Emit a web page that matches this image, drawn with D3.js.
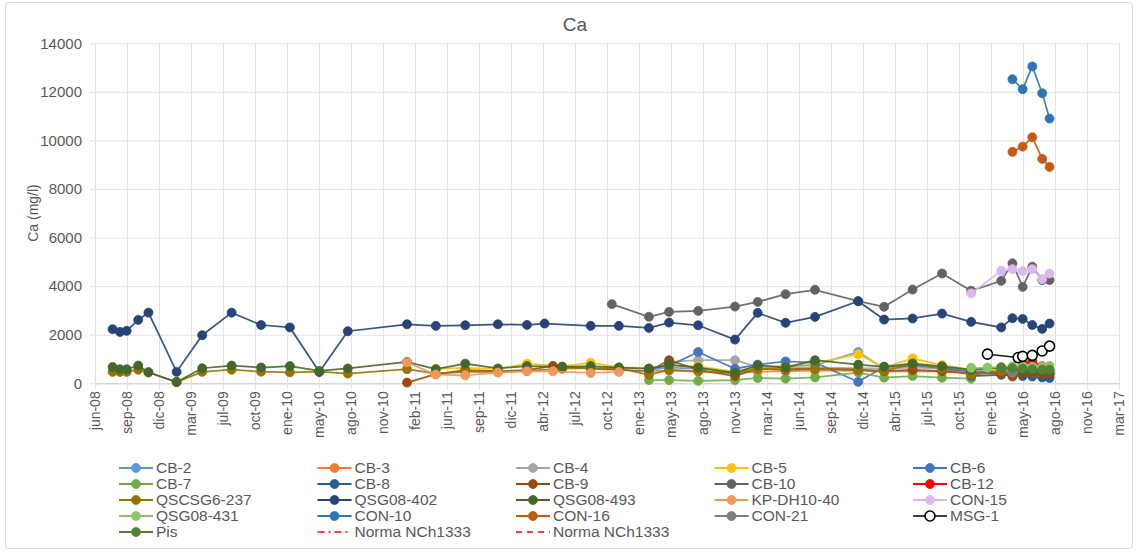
<!DOCTYPE html>
<html><head><meta charset="utf-8">
<script src="https://cdn.jsdelivr.net/npm/d3@7"></script>
<style>
body{margin:0;background:#fff;}
text{font-family:"Liberation Sans",Arial,sans-serif;fill:#595959;}
</style>
</head><body>
<svg id="c" width="1138" height="552"></svg>
<script>
// ---------- DATA ----------
const title = "Ca";
const yLabel = "Ca (mg/l)";
const monthsEs = ["ene","feb","mar","abr","may","jun","jul","ago","sep","oct","nov","dic"];
const xStart = "2008-06-01", xEnd = "2017-03-06", tickStepDays = 100;
const yTicks = [0,2000,4000,6000,8000,10000,12000,14000];

const CB2 = [["2013-02-26",550],["2013-04-30",650],["2013-07-30",600],["2013-11-22",480],["2014-02-01",650],["2014-04-29",700],["2014-07-30",750],["2014-12-12",1290],["2015-03-03",600],["2015-05-31",700],["2015-08-31",600],["2015-11-30",450],["2016-03-03",480],["2016-04-07",450],["2016-05-09",500],["2016-06-08",450],["2016-07-09",420],["2016-08-01",400]];
const CB3 = [["2013-02-26",500],["2013-04-30",520],["2013-07-30",480],["2013-11-22",420],["2014-02-01",480],["2014-04-29",500],["2014-07-30",520],["2014-12-12",520],["2015-03-03",480],["2015-05-31",500],["2015-08-31",480],["2015-11-30",420],["2016-03-03",430],["2016-04-07",400],["2016-05-09",420],["2016-06-08",410],["2016-07-09",400],["2016-08-01",400]];
const CB4 = [["2013-04-30",880],["2013-07-30",950],["2013-11-22",950],["2014-02-01",680],["2014-04-29",650],["2014-07-30",650],["2014-12-12",620],["2015-03-03",600],["2015-05-31",650],["2015-08-31",600],["2015-11-30",520],["2016-03-03",550],["2016-04-07",520],["2016-05-09",530],["2016-06-08",520],["2016-07-09",500],["2016-08-01",500]];
const CB5 = [["2011-05-02",600],["2011-08-02",630],["2011-11-12",590],["2012-02-11",810],["2012-05-31",700],["2012-08-28",850],["2012-11-24",660],["2013-02-26",620],["2013-04-30",720],["2013-07-30",700],["2013-11-22",470],["2014-02-01",700],["2014-04-29",720],["2014-07-30",820],["2014-12-12",1200],["2015-03-03",650],["2015-05-31",1020],["2015-08-31",750],["2015-11-30",560],["2016-03-03",600],["2016-04-07",640],["2016-05-09",640],["2016-06-08",620],["2016-07-09",620],["2016-08-01",600]];
const CB6 = [["2013-02-26",600],["2013-04-30",720],["2013-07-30",1290],["2013-11-22",600],["2014-02-01",770],["2014-04-29",900],["2014-07-30",850],["2014-12-12",60],["2015-03-03",680],["2015-05-31",750],["2015-08-31",650],["2015-11-30",480],["2016-03-03",450],["2016-04-07",400],["2016-05-09",420],["2016-06-08",380],["2016-07-09",350],["2016-08-01",350]];
const CB7 = [["2013-02-26",130],["2013-04-30",130],["2013-07-30",100],["2013-11-22",130],["2014-02-01",220],["2014-04-29",190],["2014-07-30",240],["2014-12-12",440],["2015-03-03",230],["2015-05-31",300],["2015-08-31",230],["2015-11-30",190]];
const CB8 = [["2015-11-30",300],["2016-03-03",350],["2016-04-07",330],["2016-05-09",300],["2016-06-08",280],["2016-07-09",240],["2016-08-01",220]];
const CB9 = [["2011-02-01",30],["2011-05-02",380],["2011-08-02",540],["2011-11-12",500],["2012-02-11",540],["2012-05-02",720],["2012-08-28",600],["2012-11-24",550],["2013-02-26",500],["2013-04-30",950],["2013-07-30",550],["2013-11-22",300],["2014-02-01",600],["2014-04-29",550],["2014-07-30",600],["2014-12-12",550],["2015-03-03",500],["2015-05-31",550],["2015-08-31",500],["2015-11-30",400],["2016-03-03",400],["2016-04-07",280],["2016-05-09",420],["2016-06-08",400],["2016-07-09",380],["2016-08-01",400]];
const CB10 = [["2012-11-02",3260],["2013-02-26",2740],["2013-04-30",2940],["2013-07-30",2980],["2013-11-22",3160],["2014-02-01",3350],["2014-04-29",3670],["2014-07-30",3850],["2014-12-12",3380],["2015-03-03",3150],["2015-05-31",3860],["2015-08-31",4520],["2015-11-30",3810],["2016-03-03",4220],["2016-04-07",4940],["2016-05-09",3970],["2016-06-08",4800],["2016-07-09",4250],["2016-08-01",4250]];
const CB12 = [["2016-05-09",800],["2016-06-08",900],["2016-07-09",700]];
const QSCSG6_237 = [["2008-07-26",470],["2008-08-18",470],["2008-09-08",470],["2008-10-14",560],["2008-11-15",450],["2009-02-11",55],["2009-05-02",470],["2009-08-02",560],["2009-11-02",480],["2010-01-31",450],["2010-05-03",480],["2010-07-31",400],["2011-02-01",580],["2011-05-02",400],["2011-08-02",470],["2011-11-12",470],["2012-02-11",510],["2012-05-31",600],["2012-08-28",620],["2012-11-24",620],["2013-02-26",350],["2013-04-30",550],["2013-07-30",500],["2013-11-22",420],["2014-02-01",600],["2014-04-29",580],["2014-07-30",600],["2014-12-12",560],["2015-03-03",500],["2015-05-31",800],["2015-08-31",600],["2015-11-30",350],["2016-03-03",500]];
const QSG08_402 = [["2008-07-26",2230],["2008-08-18",2115],["2008-09-08",2160],["2008-10-14",2610],["2008-11-15",2910],["2009-02-11",470],["2009-05-02",1980],["2009-08-02",2910],["2009-11-02",2400],["2010-01-31",2300],["2010-05-03",470],["2010-07-31",2145],["2011-02-01",2430],["2011-05-02",2365],["2011-08-02",2390],["2011-11-12",2430],["2012-02-11",2405],["2012-04-06",2460],["2012-08-28",2365],["2012-11-24",2365],["2013-02-26",2280],["2013-04-30",2500],["2013-07-30",2390],["2013-11-22",1800],["2014-02-01",2900],["2014-04-29",2490],["2014-07-30",2735],["2014-12-12",3380],["2015-03-03",2625],["2015-05-31",2670],["2015-08-31",2870],["2015-11-30",2530],["2016-03-03",2300],["2016-04-07",2680],["2016-05-09",2650],["2016-06-08",2400],["2016-07-09",2240],["2016-08-01",2460]];
const QSG08_493 = [["2008-07-26",670],["2008-08-18",580],["2008-09-08",580],["2008-10-14",730],["2008-11-15",455],["2009-02-11",55],["2009-05-02",620],["2009-08-02",730],["2009-11-02",650],["2010-01-31",710],["2010-05-03",510],["2010-07-31",610],["2011-02-01",880],["2011-05-02",580],["2011-08-02",810],["2011-11-12",610],["2012-02-11",710],["2012-05-31",680],["2012-08-28",710],["2012-11-24",650],["2013-02-26",600],["2013-04-30",770],["2013-07-30",650],["2013-11-22",430],["2014-02-01",740],["2014-04-29",650],["2014-07-30",950],["2014-12-12",770],["2015-03-03",680],["2015-05-31",820],["2015-08-31",700],["2015-11-30",560],["2016-03-03",650],["2016-04-07",550],["2016-05-09",520],["2016-06-08",500],["2016-07-09",480],["2016-08-01",500]];
const KP_DH10_40 = [["2011-02-01",860],["2011-05-02",360],["2011-08-02",330],["2011-11-12",440],["2012-02-11",495],["2012-05-02",495],["2012-08-28",425],["2012-11-24",467]];
const CON15 = [["2015-11-30",3700],["2016-03-03",4630],["2016-04-07",4700],["2016-05-09",4620],["2016-06-08",4700],["2016-07-09",4290],["2016-08-01",4520]];
const QSG08_431 = [["2015-11-30",640],["2016-01-20",650],["2016-04-07",700],["2016-05-09",700],["2016-06-08",680],["2016-07-09",680],["2016-08-01",720]];
const CON10 = [["2016-04-07",12520],["2016-05-09",12110],["2016-06-08",13045],["2016-07-09",11945],["2016-08-01",10900]];
const CON16 = [["2016-04-07",9530],["2016-05-09",9745],["2016-06-08",10130],["2016-07-09",9240],["2016-08-01",8910]];
const CON21 = [["2016-04-07",430]];
const MSG1 = [["2016-01-20",1200],["2016-04-25",1060],["2016-05-09",1110],["2016-06-08",1150],["2016-07-09",1330],["2016-08-01",1530]];
const Pis = [["2016-03-03",660],["2016-04-07",620],["2016-05-09",600],["2016-06-08",580],["2016-07-09",560],["2016-08-01",560]];
const NormaA = [];
const NormaB = [];

const seriesNames = ["CB-2","CB-3","CB-4","CB-5","CB-6","CB-7","CB-8","CB-9","CB-10","CB-12","QSCSG6-237","QSG08-402","QSG08-493","KP-DH10-40","CON-15","QSG08-431","CON-10","CON-16","CON-21","MSG-1","Pis","Norma NCh1333","Norma NCh1333"];
const seriesData = [CB2,CB3,CB4,CB5,CB6,CB7,CB8,CB9,CB10,CB12,QSCSG6_237,QSG08_402,QSG08_493,KP_DH10_40,CON15,QSG08_431,CON10,CON16,CON21,MSG1,Pis,NormaA,NormaB];
const seriesColors = ["#5B9BD5","#ED7D31","#A5A5A5","#FFC000","#4472C4","#70AD47","#255E91","#9E480E","#636363","#FF0000","#997300","#264478","#43682B","#F1975A","#D9B8EC","#8CC46A","#2E75B6","#C55A11","#7F7F7F","#000000","#548235","#FF0000","#FF0000"];
const seriesKind = ["m","m","m","m","m","m","m","m","m","m","m","m","m","m","m","m","m","m","m","open","m","dashdot","dash"];

// ---------- CHART ----------
const svg = d3.select("#c");
const parse = d3.utcParse("%Y-%m-%d");
const start = parse(xStart), end = parse(xEnd);
const x = d3.scaleUtc().domain([start, end]).range([95, 1119]);
const y = d3.scaleLinear().domain([0, 14000]).range([383.3, 43.3]);
const xTickVals = d3.range(0, Math.round((end - start) / 864e5 / tickStepDays) + 1).map(k => d3.utcDay.offset(start, k * tickStepDays));
const fmt = d => monthsEs[d.getUTCMonth()] + "-" + String(d.getUTCFullYear()).slice(2);

svg.append("rect").attr("x", 5.5).attr("y", 2.5).attr("width", 1127).attr("height", 546)
  .attr("rx", 3).attr("fill", "#fff").attr("stroke", "#d9d9d9");

const grid = "#e3e3e3";
const gy = svg.append("g").attr("transform", "translate(95,0)")
  .call(d3.axisLeft(y).tickValues(yTicks).tickFormat(d3.format("d")).tickSize(-1024).tickSizeOuter(0).tickPadding(13));
gy.select(".domain").remove();
gy.selectAll(".tick line").attr("stroke", grid).attr("x1", -5);
gy.selectAll(".tick text").attr("font-size", 15).attr("fill", "#595959")
  .attr("font-family", "Liberation Sans, Arial, sans-serif");

const gx = svg.append("g").attr("transform", "translate(0,383.3)")
  .call(d3.axisBottom(x).tickValues(xTickVals).tickFormat(fmt).tickSize(6).tickSizeOuter(0));
gx.select(".domain").attr("stroke", "#d0d0d0");
gx.selectAll(".tick line").attr("stroke", grid).attr("y1", -340).attr("y2", 6);
gx.selectAll(".tick text").attr("font-size", 14).attr("fill", "#595959")
  .attr("font-family", "Liberation Sans, Arial, sans-serif")
  .attr("transform", "rotate(-90)").attr("text-anchor", "end")
  .attr("x", -8).attr("y", 0).attr("dy", "0.35em");

svg.append("text").attr("x", 575).attr("y", 31).attr("text-anchor", "middle")
  .attr("font-size", 19).text(title);
svg.append("text").attr("transform", "translate(38,213) rotate(-90)").attr("text-anchor", "middle")
  .attr("font-size", 14).text(yLabel);

const line = d3.line().x(d => x(parse(d[0]))).y(d => y(d[1]));
const plot = svg.append("g");
seriesData.forEach((data, i) => {
  if (!data.length) return;
  const c = seriesColors[i];
  plot.append("path").attr("d", line(data)).attr("fill", "none")
    .attr("stroke", c).attr("stroke-width", seriesKind[i] === "open" ? 1.5 : 1.75)
    .attr("stroke-opacity", 0.9);
  plot.selectAll(null).data(data).enter().append("circle")
    .attr("cx", d => x(parse(d[0]))).attr("cy", d => y(d[1]))
    .attr("r", seriesKind[i] === "open" ? 5 : 4.5)
    .attr("fill", seriesKind[i] === "open" ? "#fff" : c)
    .attr("stroke", c).attr("stroke-width", seriesKind[i] === "open" ? 1.6 : 0.8);
});

const colX = [119, 317.5, 516, 714.5, 913];
const rowY = [468, 484, 500, 516, 532];
const lg = svg.append("g");
seriesNames.forEach((name, i) => {
  const cx = colX[i % 5], cy = rowY[Math.floor(i / 5)];
  const c = seriesColors[i], k = seriesKind[i];
  const g = lg.append("g");
  const ln = g.append("line").attr("x1", cx).attr("x2", cx + 34).attr("y1", cy).attr("y2", cy)
    .attr("stroke", c).attr("stroke-width", k === "open" ? 1.5 : 2);
  if (k === "dashdot") ln.attr("stroke-dasharray", "7,4,2,4").attr("stroke-width", 1.5);
  if (k === "dash") ln.attr("stroke-dasharray", "6,5").attr("stroke-width", 1.5);
  if (k === "m" || k === "open") {
    g.append("circle").attr("cx", cx + 17).attr("cy", cy).attr("r", k === "open" ? 5 : 4.5)
      .attr("fill", k === "open" ? "#fff" : c).attr("stroke", c).attr("stroke-width", k === "open" ? 1.6 : 0.8);
  }
  g.append("text").attr("x", cx + 37).attr("y", cy).attr("dy", "0.35em")
    .attr("font-size", 15.5).text(name);
});
</script>
</body></html>
